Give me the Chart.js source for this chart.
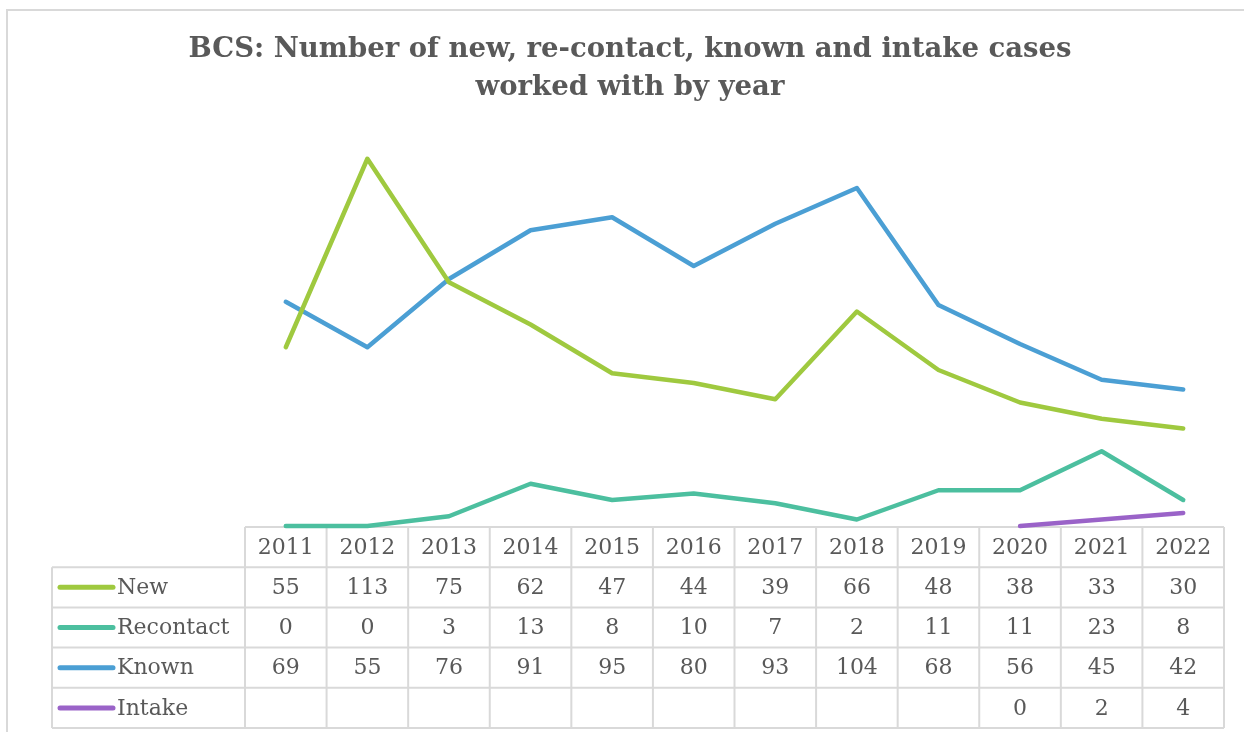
<!DOCTYPE html>
<html>
<head>
<meta charset="utf-8">
<script src="https://cdn.jsdelivr.net/npm/chart.js@4/dist/chart.umd.min.js"></script>
<style>
  html, body { margin: 0; padding: 0; background: #fff; }
  #wrap { width: 1244px; height: 732px; position: relative; }
</style>
</head>
<body>
<div id="wrap"><canvas id="myChart" width="1244" height="732"></canvas></div>
<script>
// data
const years = ['2011', '2012', '2013', '2014', '2015', '2016', '2017', '2018', '2019', '2020', '2021', '2022'];
const newCases = [55, 113, 75, 62, 47, 44, 39, 66, 48, 38, 33, 30];
const recontact = [0, 0, 3, 13, 8, 10, 7, 2, 11, 11, 23, 8];
const known = [69, 55, 76, 91, 95, 80, 93, 104, 68, 56, 45, 42];
const intake = [null, null, null, null, null, null, null, null, null, 0, 2, 4];

const textColor = '#595959';
const gridColor = '#d9d9d9';
const slab = '"DejaVu Serif", serif';

// draws the title, outer frame and the data table below the plot
const tablePlugin = {
    id: 'dataTable',
    beforeDatasetsDraw(chart) {
        const ctx = chart.ctx;
        const area = chart.chartArea;
        const x = chart.scales.x;
        const half = (x.getPixelForValue(1) - x.getPixelForValue(0)) / 2;
        const rowH = 40.2;
        const top = area.bottom + 1;
        const labelLeft = 52;
        const rows = chart.data.datasets.length;

        ctx.save();
        // frame (right side runs off the picture)
        ctx.strokeStyle = gridColor;
        ctx.lineWidth = 2;
        ctx.strokeRect(7, 10, 1300, 800);

        // title
        ctx.fillStyle = textColor;
        ctx.font = 'bold 27.5px ' + slab;
        ctx.textAlign = 'center';
        ctx.textBaseline = 'middle';
        ctx.fillText('BCS: Number of new, re-contact, known and intake cases', 630, 50);
        ctx.fillText('worked with by year', 630, 88);

        // grid
        ctx.strokeStyle = gridColor;
        ctx.lineWidth = 2;
        ctx.beginPath();
        ctx.moveTo(area.left, top);
        ctx.lineTo(area.right, top);
        for (let r = 1; r <= rows + 1; r++) {
            ctx.moveTo(labelLeft, top + r * rowH);
            ctx.lineTo(area.right, top + r * rowH);
        }
        for (let i = 0; i <= years.length; i++) {
            const cx = x.getPixelForValue(0) - half + i * half * 2;
            ctx.moveTo(cx, top);
            ctx.lineTo(cx, top + (rows + 1) * rowH);
        }
        ctx.moveTo(labelLeft, top + rowH);
        ctx.lineTo(labelLeft, top + (rows + 1) * rowH);
        ctx.stroke();

        // header
        ctx.font = '22px ' + slab;
        ctx.fillStyle = textColor;
        ctx.textAlign = 'center';
        years.forEach((y, i) => {
            ctx.fillText(y, x.getPixelForValue(i), top + rowH / 2 + 1);
        });

        // rows
        chart.data.datasets.forEach((ds, r) => {
            const cy = top + (r + 1.5) * rowH;
            ctx.strokeStyle = ds.borderColor;
            ctx.lineWidth = 5;
            ctx.lineCap = 'round';
            ctx.beginPath();
            ctx.moveTo(60, cy);
            ctx.lineTo(113, cy);
            ctx.stroke();
            ctx.fillStyle = textColor;
            ctx.textAlign = 'left';
            ctx.fillText(ds.label, 117, cy + 1);
            ctx.textAlign = 'center';
            ds.data.forEach((v, i) => {
                if (v !== null) ctx.fillText(String(v), x.getPixelForValue(i), cy + 1);
            });
        });
        ctx.restore();
    }
};

const ctx = document.getElementById('myChart').getContext('2d');
new Chart(ctx, {
    type: 'line',
    data: {
        labels: years,
        datasets: [
            { label: 'New', data: newCases, borderColor: '#9fc93f' },
            { label: 'Recontact', data: recontact, borderColor: '#4cbf9f' },
            { label: 'Known', data: known, borderColor: '#4b9fd4' },
            { label: 'Intake', data: intake, borderColor: '#9a63c8' }
        ].map(d => Object.assign(d, {
            borderWidth: 4.5,
            pointRadius: 0,
            pointHoverRadius: 0,
            tension: 0,
            fill: false,
            clip: false,
            borderCapStyle: 'round',
            borderJoinStyle: 'round'
        }))
    },
    options: {
        responsive: false,
        animation: false,
        layout: { padding: { top: 136, left: 245, right: 20, bottom: 206 } },
        scales: {
            x: { display: false, offset: true },
            y: { display: false, min: 0, max: 120 }
        },
        plugins: {
            legend: { display: false },
            title: { display: false },
            tooltip: { enabled: false }
        }
    },
    plugins: [tablePlugin]
});
</script>
</body>
</html>
